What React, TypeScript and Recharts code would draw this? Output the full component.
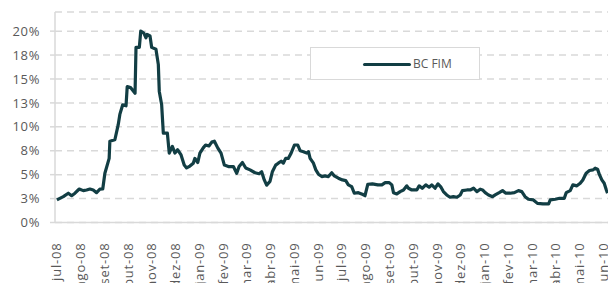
import React from 'react';
import { LineChart, Line, XAxis, YAxis, CartesianGrid } from 'recharts';

// month labels on the date axis (pt-BR)
const monthLabels = [
  'jul-08', 'ago-08', 'set-08', 'out-08', 'nov-08', 'dez-08',
  'jan-09', 'fev-09', 'mar-09', 'abr-09', 'mai-09', 'jun-09',
  'jul-09', 'ago-09', 'set-09', 'out-09', 'nov-09', 'dez-09',
  'jan-10', 'fev-10', 'mar-10', 'abr-10', 'mai-10', 'jun-10',
];

// time in months since jul-08
const months = [
  0.0, 0.27, 0.48, 0.62, 0.76, 0.94, 1.11, 1.25, 1.39, 1.53, 1.67, 1.81, 1.93,
  2.02, 2.2, 2.23, 2.44, 2.58, 2.65, 2.77, 2.91, 2.96, 3.1, 3.29, 3.33, 3.47,
  3.53, 3.66, 3.75, 3.8, 3.92, 3.99, 4.17, 4.27, 4.31, 4.41, 4.48, 4.65, 4.73,
  4.86, 4.97, 5.08, 5.22, 5.36, 5.46, 5.6, 5.74, 5.81, 5.93, 6.02, 6.16, 6.26,
  6.4, 6.52, 6.63, 6.77, 6.91, 7.05, 7.22, 7.43, 7.57, 7.67, 7.81, 7.95, 8.13,
  8.34, 8.51, 8.62, 8.73, 8.83, 8.97, 9.07, 9.21, 9.32, 9.44, 9.53, 9.63, 9.74,
  9.86, 10.0, 10.14, 10.24, 10.38, 10.52, 10.59, 10.66, 10.8, 10.9, 11.01,
  11.15, 11.29, 11.43, 11.57, 11.68, 11.85, 12.02, 12.16, 12.27, 12.41, 12.52,
  12.69, 12.86, 12.97, 13.09, 13.28, 13.51, 13.68, 13.82, 13.99, 14.1, 14.17,
  14.31, 14.45, 14.59, 14.73, 14.8, 14.94, 15.15, 15.25, 15.38, 15.53, 15.67,
  15.78, 15.92, 16.04, 16.17, 16.27, 16.41, 16.55, 16.69, 16.84, 16.98, 17.07,
  17.26, 17.4, 17.54, 17.68, 17.82, 17.92, 18.03, 18.17, 18.34, 18.45, 18.62,
  18.76, 18.9, 19.08, 19.26, 19.43, 19.57, 19.71, 19.85, 20.06, 20.23, 20.46,
  20.7, 20.77, 20.98, 21.16, 21.36, 21.44, 21.61, 21.72, 21.89, 22.03, 22.14,
  22.28, 22.42, 22.57, 22.66, 22.76, 22.84, 22.94, 23.04, 23.13, 23.18,
];

// BC FIM rate, %
const rates = [
  2.36, 2.7, 3.06, 2.8, 3.06, 3.5, 3.33, 3.4, 3.5, 3.4, 3.12, 3.48, 3.5,
  5.15, 6.7, 8.5, 8.65, 10.2, 11.3, 12.3, 12.2, 14.2, 14.1, 13.5, 18.3, 18.3,
  20.0, 19.8, 19.3, 19.65, 19.5, 18.3, 18.1, 16.5, 13.7, 12.3, 9.35, 9.35, 7.25,
  7.95, 7.25, 7.6, 7.1, 6.0, 5.7, 5.9, 6.2, 6.7, 6.27, 7.25, 7.8, 8.1,
  8.0, 8.4, 8.5, 7.8, 7.25, 6.0, 5.85, 5.85, 5.15, 5.85, 6.27, 5.7, 5.5,
  5.2, 5.1, 5.3, 4.45, 3.9, 4.3, 5.3, 6.0, 6.2, 6.4, 6.2, 6.7, 6.7,
  7.25, 8.1, 8.1, 7.5, 7.4, 7.25, 7.4, 6.7, 6.2, 5.5, 5.05,
  4.8, 4.87, 4.8, 5.2, 4.87, 4.63, 4.45, 4.38, 3.93, 3.75, 3.06,
  3.12, 2.95, 2.8, 4.0, 4.04, 3.93, 3.93, 4.17, 4.17, 3.93, 3.12,
  2.99, 3.23, 3.4, 3.83, 3.58, 3.4, 3.4, 3.83, 3.58, 3.93, 3.69,
  3.93, 3.58, 4.04, 3.69, 3.23, 2.88, 2.64, 2.7, 2.64, 2.88, 3.33,
  3.4, 3.4, 3.58, 3.23, 3.48, 3.4, 3.12, 2.88, 2.7, 2.88, 3.12,
  3.33, 3.06, 3.06, 3.12, 3.33, 3.23, 2.7, 2.43, 2.36, 2.0, 1.94,
  1.94, 2.36, 2.43, 2.53, 2.53, 3.12, 3.33, 3.93, 3.83, 4.1, 4.45,
  5.15, 5.43, 5.5, 5.68, 5.58, 5.0, 4.45, 4.1, 3.4, 3.06,
];

const yTicks = [0, 2.5, 5, 7.5, 10, 12.5, 15, 17.5, 20];

const LINE_COLOR = '#123e44';
const GRID_COLOR = '#d9d9d9';
const TEXT_COLOR = '#595959';
const FONT = '"Open Sans", sans-serif';

const chartData = months.map((m, i) => ({ m, v: rates[i] }));

const MonthTick = ({ x, y, payload }: { x?: number; y?: number; payload?: { value: number } }) => (
  <text
    x={x}
    y={y}
    transform={`rotate(-90, ${x}, ${y})`}
    textAnchor="end"
    dy="0.35em"
    fill={TEXT_COLOR}
    fontSize={13}
    letterSpacing={0.8}
    fontFamily={FONT}
  >
    {monthLabels[payload?.value ?? 0]}
  </text>
);

export default function App() {
  return (
    <div
      style={{
        position: 'absolute',
        left: 0,
        top: 0,
        width: 608,
        height: 283,
        overflow: 'hidden',
        background: '#fff',
      }}
    >
      <LineChart
        width={608}
        height={283}
        data={chartData}
        margin={{ top: 12, right: 0, bottom: 0, left: 0 }}
      >
        <CartesianGrid
          vertical={false}
          stroke={GRID_COLOR}
          strokeWidth={1.5}
          strokeDasharray="7 5"
        />
        <XAxis
          type="number"
          dataKey="m"
          domain={[-0.08, 23.2]}
          allowDataOverflow
          ticks={monthLabels.map((_, i) => i)}
          interval={0}
          tick={<MonthTick />}
          tickLine={false}
          tickSize={0}
          tickMargin={20}
          height={60.5}
          axisLine={{ stroke: GRID_COLOR, strokeWidth: 1.5 }}
        />
        <YAxis
          type="number"
          domain={[0, 22]}
          ticks={yTicks}
          interval={0}
          width={55}
          tickFormatter={(v: number) => `${Math.round(v)}%`}
          tick={{ fill: TEXT_COLOR, fontSize: 13, fontFamily: FONT, letterSpacing: 0.6 }}
          tickSize={5}
          tickMargin={10}
          tickLine={{ stroke: GRID_COLOR, strokeWidth: 1.5 }}
          axisLine={{ stroke: GRID_COLOR, strokeWidth: 1.5 }}
        />
        <Line
          type="linear"
          dataKey="v"
          stroke={LINE_COLOR}
          strokeWidth={3.2}
          dot={false}
          strokeLinejoin="round"
          isAnimationActive={false}
        />
      </LineChart>
      <div
        style={{
          position: 'absolute',
          left: 310,
          top: 47,
          width: 170,
          height: 33,
          border: `1px solid ${GRID_COLOR}`,
          background: '#fff',
          boxSizing: 'border-box',
        }}
      >
        <div
          style={{
            position: 'absolute',
            left: 52,
            top: 15,
            width: 48,
            height: 3,
            background: LINE_COLOR,
            borderRadius: 1.5,
          }}
        />
        <span
          style={{
            position: 'absolute',
            left: 102,
            top: 7,
            fontFamily: FONT,
            fontSize: 12,
            lineHeight: '18px',
            color: TEXT_COLOR,
          }}
        >
          BC FIM
        </span>
      </div>
    </div>
  );
}
